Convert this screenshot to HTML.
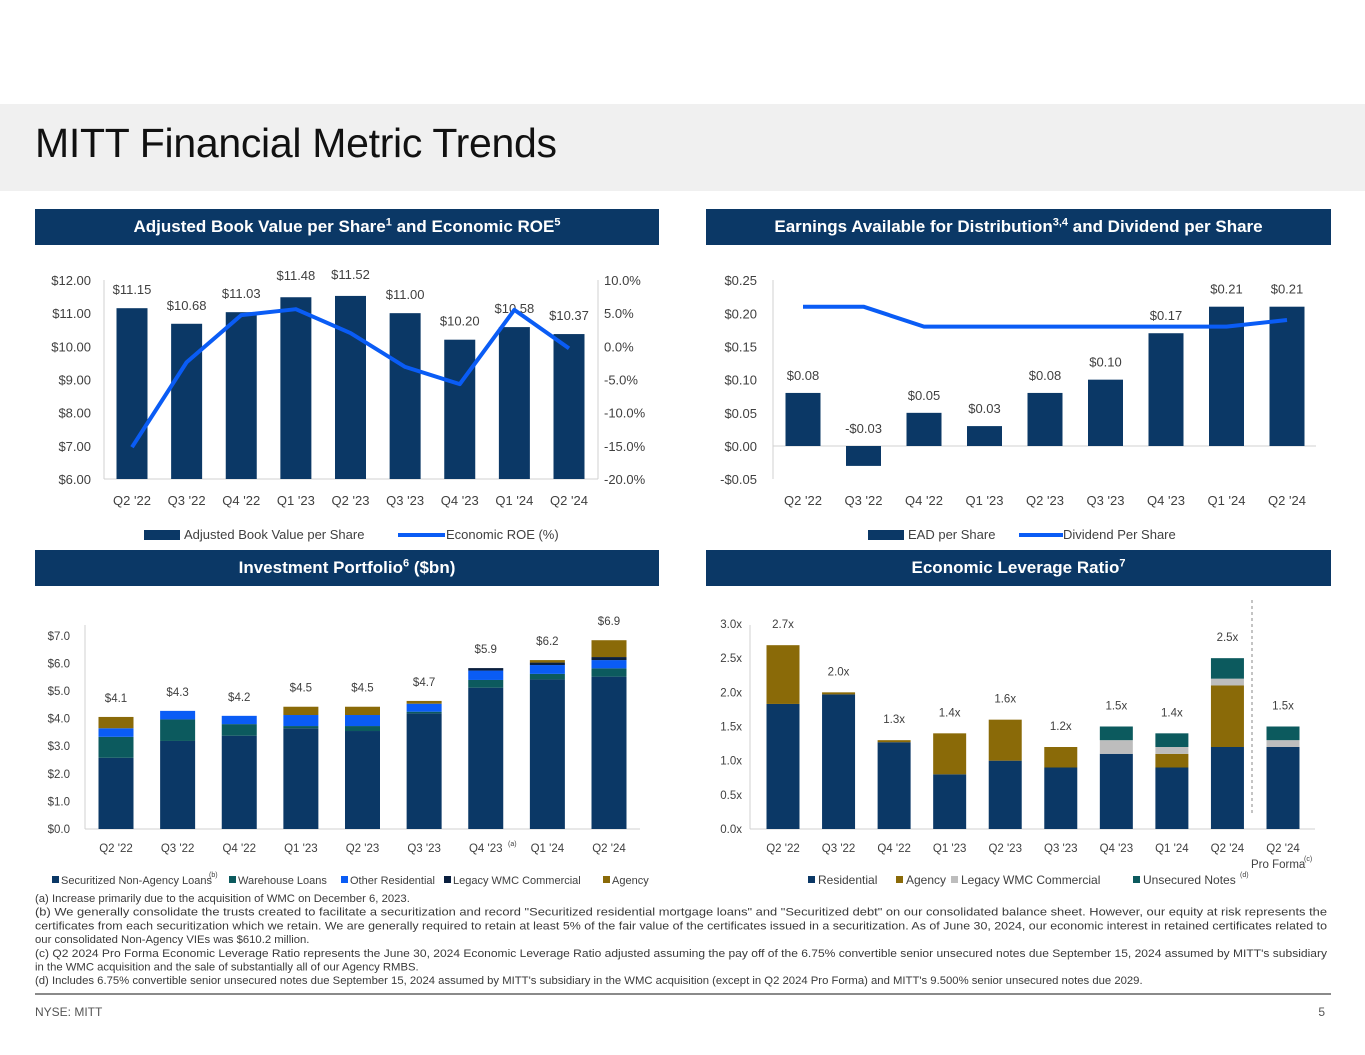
<!DOCTYPE html>
<html><head><meta charset="utf-8">
<style>
*{margin:0;padding:0;box-sizing:border-box}
body{width:1365px;height:1055px;background:#fff;position:relative;overflow:hidden;font-family:"Liberation Sans",sans-serif}
.band{position:absolute;left:0;top:104px;width:1365px;height:87px;background:#f0f0f0}
.title{position:absolute;left:35px;top:120px;font-size:41px;color:#111;letter-spacing:-0.3px}
.hdr{position:absolute;height:36px;background:#0b3866;color:#fff;font-weight:bold;font-size:17px;text-align:center;line-height:36px}
.hdr sup{font-size:11px;line-height:0}
svg{position:absolute;left:0;top:0}
</style></head>
<body>
<div class="band"></div>
<div class="title">MITT Financial Metric Trends</div>
<div class="hdr" style="left:35px;top:209px;width:624px">Adjusted Book Value per Share<sup>1</sup> and Economic ROE<sup>5</sup></div>
<div class="hdr" style="left:706px;top:209px;width:625px">Earnings Available for Distribution<sup>3,4</sup> and Dividend per Share</div>
<div class="hdr" style="left:35px;top:550px;width:624px">Investment Portfolio<sup>6</sup> ($bn)</div>
<div class="hdr" style="left:706px;top:550px;width:625px">Economic Leverage Ratio<sup>7</sup></div>
<svg id="s" width="1365" height="1055"></svg>
<script>
// ---- data ----
const quarters = ["Q2 '22","Q3 '22","Q4 '22","Q1 '23","Q2 '23","Q3 '23","Q4 '23","Q1 '24","Q2 '24"];
const bookValue = [11.15,10.68,11.03,11.48,11.52,11.00,10.20,10.58,10.37];
const econROE = [-15.2,-2.4,4.7,5.6,2.0,-3.1,-5.7,5.5,-0.3];
const bvTicks = [6,7,8,9,10,11,12];
const roeTicks = [-20,-15,-10,-5,0,5,10];
const eadPerShare = [0.08,-0.03,0.05,0.03,0.08,0.10,0.17,0.21,0.21];
const dividendPerShare = [0.21,0.21,0.18,0.18,0.18,0.18,0.18,0.18,0.19];
const eadTicks = [-0.05,0,0.05,0.10,0.15,0.20,0.25];
const portSecuritized = [2.58,3.19,3.38,3.65,3.55,4.19,5.12,5.42,5.52];
const portWarehouse = [0.76,0.78,0.42,0.08,0.18,0.06,0.28,0.20,0.30];
const portOtherRes = [0.31,0.31,0.30,0.40,0.40,0.29,0.34,0.32,0.30];
const portLegacy = [0,0,0,0,0,0,0.09,0.09,0.11];
const portAgency = [0.41,0,0,0.30,0.30,0.10,0,0.09,0.61];
const portTotals = ["$4.1","$4.3","$4.2","$4.5","$4.5","$4.7","$5.9","$6.2","$6.9"];
const portTicks = [0,1,2,3,4,5,6,7];
const levCats = ["Q2 '22","Q3 '22","Q4 '22","Q1 '23","Q2 '23","Q3 '23","Q4 '23","Q1 '24","Q2 '24","Q2 '24"];
const levResidential = [1.83,1.97,1.27,0.80,1.00,0.90,1.10,0.90,1.20,1.20];
const levAgency = [0.86,0.03,0.03,0.60,0.60,0.30,0,0.20,0.90,0];
const levLegacy = [0,0,0,0,0,0,0.20,0.10,0.10,0.10];
const levUnsecured = [0,0,0,0,0,0,0.20,0.20,0.30,0.20];
const levTotals = ["2.7x","2.0x","1.3x","1.4x","1.6x","1.2x","1.5x","1.4x","2.5x","1.5x"];
const levTicks = [0,0.5,1,1.5,2,2.5,3];

const NS="http://www.w3.org/2000/svg", S=document.getElementById('s');
function el(tag,attrs,txt){const e=document.createElementNS(NS,tag);for(const k in attrs)e.setAttribute(k,attrs[k]);if(txt!==undefined)e.textContent=txt;S.appendChild(e);return e;}
const NAVY="#0b3866",BLUE="#0a5cf5",TEAL="#0c5a5e",GOLD="#8a6a08",GRAY="#bdbdbd",DARK="#0a1f3e",TXT="#404040",AX="#d0d0d0";
function txt(x,y,s,size,anchor,name,fill){const t=el('text',{x:x,y:y,'font-size':size,'text-anchor':anchor||'middle',fill:fill||TXT,'font-family':'Liberation Sans, sans-serif'},s);return t;}

// ---- Chart 1 ----
(function(){
 const x0=132,step=(569-132)/8,bw=31,yB=v=>479-(v-6)*(199/6),yR=v=>479-(v+20)*(199/30);
 el('line',{x1:104,y1:280,x2:104,y2:479,stroke:AX});el('line',{x1:598,y1:280,x2:598,y2:479,stroke:AX});
 el('line',{x1:104,y1:479,x2:598,y2:479,stroke:AX});
 bvTicks.forEach(v=>txt(91,yB(v)+5,'$'+v.toFixed(2),13,'end','bv-tick'));
 roeTicks.forEach(v=>txt(604,yR(v)+5,v.toFixed(1)+'%',13,'start','roe-tick'));
 quarters.forEach((q,i)=>{const cx=x0+i*step;
  const r=el('rect',{x:cx-bw/2,y:yB(bookValue[i]),width:bw,height:479-yB(bookValue[i]),fill:NAVY});
  
  txt(cx,yB(bookValue[i])-14+((i==3||i==4)?-3:0),'$'+bookValue[i].toFixed(2),13,'middle','bv-label');
  txt(cx,505,q,13,'middle','x-label');});
 const pl=el('polyline',{points:econROE.map((v,i)=>(x0+i*step)+','+yR(v)).join(' '),fill:'none',stroke:BLUE,'stroke-width':4,'stroke-linejoin':'round'});
 
 el('rect',{x:144,y:530,width:36,height:10,fill:NAVY});txt(184,539,'Adjusted Book Value per Share',13,'start','legend-bv');
 el('line',{x1:398,y1:535,x2:445,y2:535,stroke:BLUE,'stroke-width':4});txt(446,539,'Economic ROE (%)',13,'start','legend-roe');
})();

// ---- Chart 2 ----
(function(){
 const x0=803,step=(1287-803)/8,bw=35,y=v=>446-v*(199/0.30);
 el('line',{x1:773,y1:280,x2:773,y2:479,stroke:AX});el('line',{x1:773,y1:446,x2:1316,y2:446,stroke:AX});
 eadTicks.forEach(v=>txt(757,y(v)+5,(v<0?'-$':'$')+Math.abs(v).toFixed(2),13,'end','ead-tick'));
 quarters.forEach((q,i)=>{const cx=x0+i*step,v=eadPerShare[i];
  const r=el('rect',{x:cx-bw/2,y:Math.min(y(v),y(0)),width:bw,height:Math.abs(y(v)-y(0)),fill:NAVY});
  
  txt(cx,(v<0?y(0)-13:y(v)-13),(v<0?'-$':'$')+Math.abs(v).toFixed(2),13,'middle','ead-label');
  txt(cx,505,q,13,'middle','x-label');});
 const pl=el('polyline',{points:dividendPerShare.map((v,i)=>(x0+i*step)+','+y(v)).join(' '),fill:'none',stroke:BLUE,'stroke-width':4,'stroke-linejoin':'round'});
 
 el('rect',{x:868,y:530,width:36,height:10,fill:NAVY});txt(908,539,'EAD per Share',13,'start','legend-ead');
 el('line',{x1:1019,y1:535,x2:1063,y2:535,stroke:BLUE,'stroke-width':4});txt(1063,539,'Dividend Per Share',13,'start','legend-div');
})();

// ---- Chart 3 ----
(function(){
 const x0=116,step=(609-116)/8,bw=35,y=v=>829-v*27.6;
 el('line',{x1:85,y1:625,x2:85,y2:829,stroke:AX});el('line',{x1:85,y1:829,x2:640,y2:829,stroke:AX});
 portTicks.forEach(v=>txt(70,y(v)+4,'$'+v.toFixed(1),11.5,'end','port-tick'));
 const series=[[portSecuritized,NAVY],[portWarehouse,TEAL],[portOtherRes,BLUE],[portLegacy,DARK],[portAgency,GOLD]];
 quarters.forEach((q,i)=>{const cx=x0+i*step;let acc=0;
  series.forEach(([arr,c],k)=>{const v=arr[i];if(v>0){const r=el('rect',{x:cx-bw/2,y:y(acc+v),width:bw,height:v*27.6,fill:c});
   }acc+=v;});
  txt(cx,y(acc)-15,portTotals[i],11.5,'middle','port-total');
  txt(cx,852,q,11.5,'middle','x-label');});
 txt(508,846,'(a)',7,'start','note-a');
 const L=[["Securitized Non-Agency Loans",NAVY,52],["Warehouse Loans",TEAL,229],["Other Residential",BLUE,341],["Legacy WMC Commercial",DARK,444],["Agency",GOLD,603]];
 L.forEach(([n,c,x])=>{el('rect',{x:x,y:876,width:7,height:7,fill:c});txt(x+9,884,n,11,'start','legend-port');});
 txt(209,877,'(b)',7,'start','note-b');
})();

// ---- Chart 4 ----
(function(){
 const x0=783,step=(1283-783)/9,bw=33,y=v=>829-v*(205/3);
 el('line',{x1:750,y1:829,x2:1315,y2:829,stroke:AX});el('line',{x1:750,y1:625,x2:750,y2:829,stroke:AX});
 levTicks.forEach(v=>txt(742,y(v)+4,v.toFixed(1)+'x',11.5,'end','lev-tick'));
 const series=[[levResidential,NAVY],[levAgency,GOLD],[levLegacy,GRAY],[levUnsecured,TEAL]];
 levCats.forEach((q,i)=>{const cx=x0+i*step;let acc=0;
  series.forEach(([arr,c],k)=>{const v=arr[i];if(v>0){const r=el('rect',{x:cx-bw/2,y:y(acc+v),width:bw,height:v*(205/3),fill:c});
   }acc+=v;});
  txt(cx,y(acc)-17,levTotals[i],11.5,'middle','lev-total');
  txt(cx,852,q,11.5,'middle','x-label');});
 el('line',{x1:1252,y1:600,x2:1252,y2:815,stroke:'#888','stroke-dasharray':'3,3'});
 txt(1251,868,'Pro Forma',11.5,'start','pro-forma-label');txt(1304,861,'(c)',7,'start','note-c');
 const L=[["Residential",NAVY,808],["Agency",GOLD,896],["Legacy WMC Commercial",GRAY,951],["Unsecured Notes",TEAL,1133]];
 L.forEach(([n,c,x])=>{el('rect',{x:x,y:876,width:7,height:7,fill:c});txt(x+10,884,n,12,'start','legend-lev');});
 txt(1240,877,'(d)',7,'start','note-d');
})();

// ---- footnotes ----
const notes=[
 ["(a) Increase primarily due to the acquisition of WMC on December 6, 2023.",0],
 ["(b) We generally consolidate the trusts created to facilitate a securitization and record \"Securitized residential mortgage loans\" and \"Securitized debt\" on our consolidated balance sheet. However, our equity at risk represents the",1],
 ["certificates from each securitization which we retain. We are generally required to retain at least 5% of the fair value of the certificates issued in a securitization. As of June 30, 2024, our economic interest in retained certificates related to",1],
 ["our consolidated Non-Agency VIEs was $610.2 million.",0],
 ["(c) Q2 2024 Pro Forma Economic Leverage Ratio represents the June 30, 2024 Economic Leverage Ratio adjusted assuming the pay off of the 6.75% convertible senior unsecured notes due September 15, 2024 assumed by MITT's subsidiary",1],
 ["in the WMC acquisition and the sale of substantially all of our Agency RMBS.",0],
 ["(d) Includes 6.75% convertible senior unsecured notes due September 15, 2024 assumed by MITT's subsidiary in the WMC acquisition (except in Q2 2024 Pro Forma) and MITT's 9.500% senior unsecured notes due 2029.",0]
];
notes.forEach(([t,full],i)=>{const a={x:35,y:902+i*13.7,'font-size':11.3,fill:'#3a3a3a','font-family':'Liberation Sans, sans-serif'};
 if(full){a.textLength=1292;a.lengthAdjust='spacingAndGlyphs';}
 const e=el('text',a,t);});
el('line',{x1:35,y1:994,x2:1331,y2:994,stroke:'#8a8a8a','stroke-width':2});
txt(35,1016,'NYSE: MITT',12,'start','footer-ticker','#555');
txt(1325,1016,'5',12,'end','page-number','#555');
</script>
</body></html>
